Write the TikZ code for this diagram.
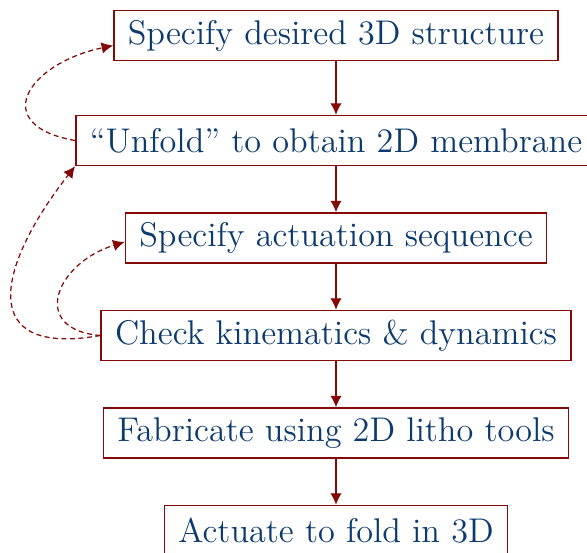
\documentclass[tikz,border=0pt]{standalone}
\usepackage{xcolor}
\usepackage{tikz}
\usetikzlibrary{arrows.meta,positioning}
\definecolor{stepblue}{RGB}{12,58,110}
\definecolor{stepred}{RGB}{132,10,10}

\begin{document}
\begin{tikzpicture}[x=0.4pt,y=0.4pt,node distance=18.4pt,
  box/.style={draw=stepred,line width=0.6pt,align=center,minimum height=20pt,
    inner xsep=5.6pt,text=stepblue,font=\fontsize{13.7}{16}\selectfont},
  >={Latex[length=4.6pt,width=4.6pt]}, every edge/.style={draw=stepred,->,line width=0.55pt},
  back/.style={draw=stepred,->,line width=0.5pt,dash pattern=on 2pt off 1.4pt}]
  \path[use as bounding box](0,0)rectangle(587,-553);
  \node[box] (spec) at (336,-35.5) {Specify desired 3D structure};
  \node[box,below=21.4pt of spec](unfold){“Unfold” to obtain 2D membrane};
  \node[box,below=of unfold](seq){Specify actuation sequence};
  \node[box,below=of seq](check){Check kinematics \& dynamics};
  \node[box,below=of check](fab){Fabricate using 2D litho tools};
  \node[box,below=of fab](fold){Actuate to fold in 3D};
  \draw(spec)edge(unfold); \draw(unfold)edge(seq); \draw(seq)edge(check);
  \draw(check)edge(fab); \draw(fab)edge(fold);
  % feedback loops
  \draw[back](unfold.west)to[out=170,in=192,looseness=2.2]([yshift=-4pt]spec.west);
  \draw[back](check.west)to[out=175,in=197,looseness=1.9]([yshift=-1.6pt]seq.west);
  \draw[back](check.west)to[out=190,in=232,looseness=1.9](unfold.south west);
\end{tikzpicture}
\end{document}
